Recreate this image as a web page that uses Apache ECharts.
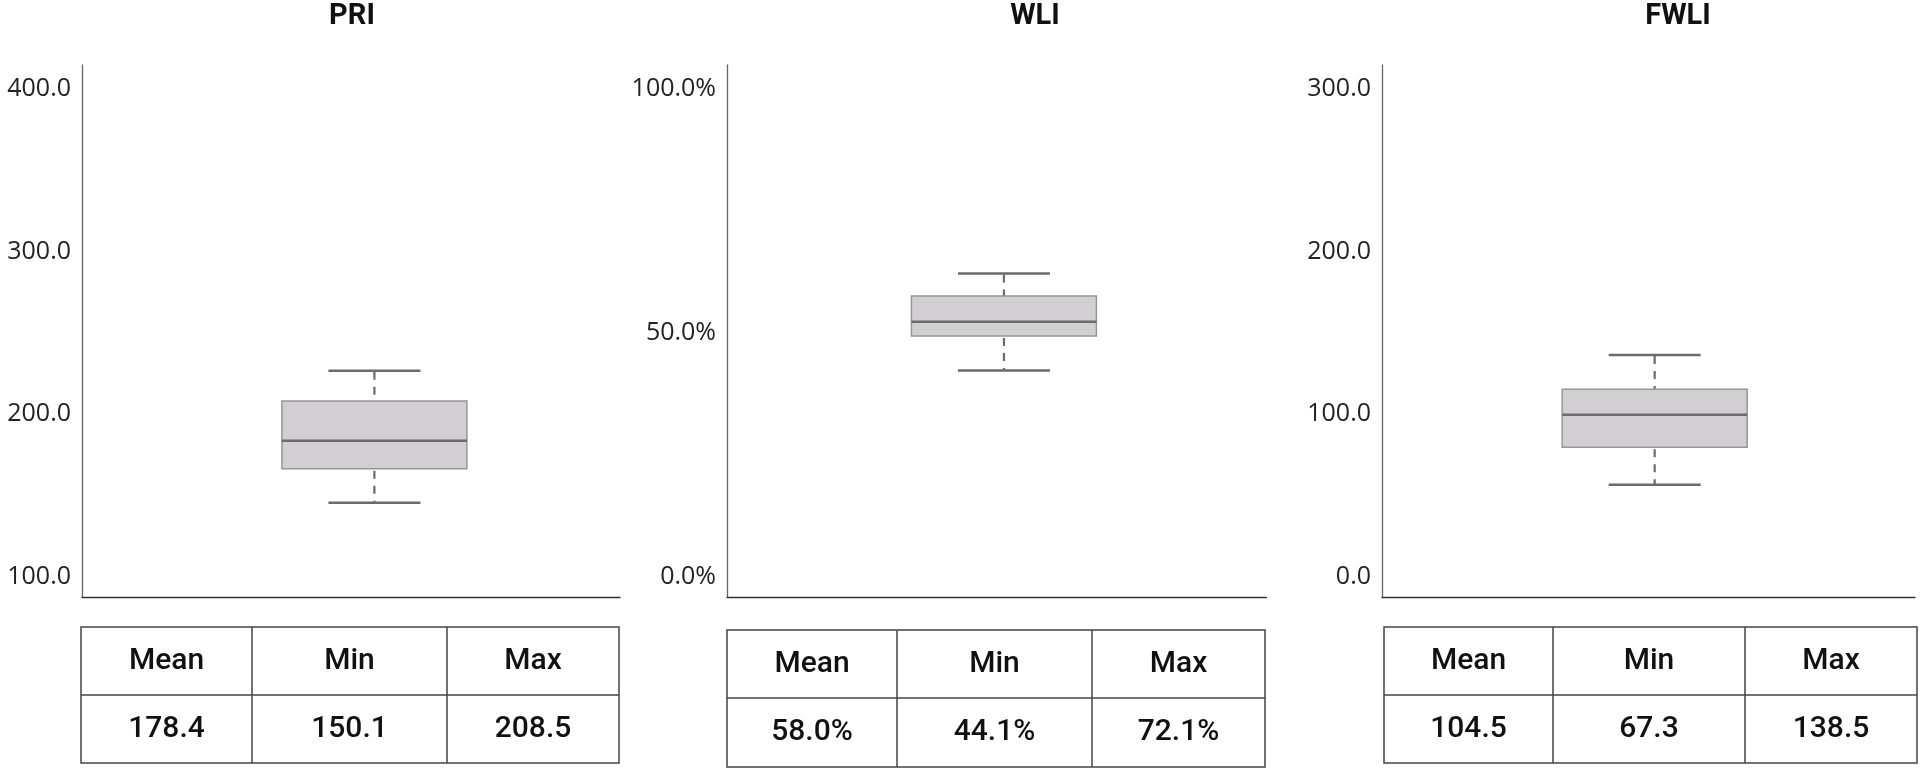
<!DOCTYPE html>
<html><head><meta charset="utf-8">
<script src="https://cdn.jsdelivr.net/npm/echarts@6/dist/echarts.min.js"></script>
<style>html,body{margin:0;padding:0;background:#fff}#c{width:1927px;height:771px}</style>
</head><body><div id="c"></div>
<script>
// ---- data ----
const titles = ['PRI', 'WLI', 'FWLI'];
// [lower whisker, Q1, median, Q3, upper whisker]
const priBox = [145.7, 166.6, 183.8, 208.2, 226.8];
const wliBox = [42.3, 49.4, 52.3, 57.6, 62.2];     // percent
const fwliBox = [56.7, 79.7, 99.8, 115.4, 136.5];
const priTicks = [100, 200, 300, 400];
const wliTicks = [0, 50, 100];
const fwliTicks = [0, 100, 200, 300];
const tableHeaders = ['Mean', 'Min', 'Max'];
const priStats = [178.4, 150.1, 208.5];
const wliStats = [58.0, 44.1, 72.1];
const fwliStats = [104.5, 67.3, 138.5];

// ---- layout ----
const layout = [
  { left: 82, width: 538, yMin: 87.70, yMax: 414.75, boxAt: 0.5435, titleX: 352,
    cols: [81, 252, 447, 619], rows: [627, 695, 763], fmt: v => v.toFixed(1) },
  { left: 727, width: 539.5, yMin: -4.098, yMax: 104.918, boxAt: 0.5133, titleX: 1035,
    cols: [727, 897, 1092, 1265], rows: [630, 698, 767], fmt: v => v.toFixed(1) + '%' },
  { left: 1382, width: 533, yMin: -12.30, yMax: 314.75, boxAt: 0.5116, titleX: 1678,
    cols: [1384, 1553, 1745, 1917], rows: [627, 695, 763], fmt: v => v.toFixed(1) }
];
const boxes = [priBox, wliBox, fwliBox];
const ticks = [priTicks, wliTicks, fwliTicks];
const stats = [priStats, wliStats, fwliStats];

const GRID_TOP = 65, GRID_BOTTOM = 174;
const BOX_W = 185, CAP_W = 92;
const WHISK = '#6b6b6b';

const chart = echarts.init(document.getElementById('c'), null, { renderer: 'canvas' });

const grids = layout.map(l => ({ left: l.left, width: l.width, top: GRID_TOP, bottom: GRID_BOTTOM }));
const xAxes = layout.map((l, i) => ({
  type: 'value', gridIndex: i, min: 0, max: 1,
  axisLine: { show: true, onZero: false, lineStyle: { color: '#333', width: 1.3 } },
  axisTick: { show: false }, axisLabel: { show: false }, splitLine: { show: false }
}));
const yAxes = layout.map((l, i) => ({
  type: 'value', gridIndex: i, min: l.yMin, max: l.yMax,
  axisLine: { show: true, lineStyle: { color: '#666', width: 1.3 } },
  axisTick: { show: false }, splitLine: { show: false },
  axisLabel: {
    customValues: ticks[i], margin: 11,
    formatter: v => l.fmt(v),
    fontFamily: 'Open Sans', fontSize: 25, color: '#222'
  }
}));

function renderBox(params, api) {
  const xv = api.value(0);
  const lo = api.coord([xv, api.value(1)]);
  const q1 = api.coord([xv, api.value(2)]);
  const md = api.coord([xv, api.value(3)]);
  const q3 = api.coord([xv, api.value(4)]);
  const hi = api.coord([xv, api.value(5)]);
  const cx = lo[0];
  const dash = { stroke: WHISK, lineWidth: 2.2, lineDash: [8, 7] };
  const solid = { stroke: WHISK, lineWidth: 2.5 };
  return {
    type: 'group', children: [
      { type: 'line', shape: { x1: cx, y1: hi[1] + 1, x2: cx, y2: q3[1] }, style: dash },
      { type: 'line', shape: { x1: cx, y1: q1[1] + 2, x2: cx, y2: lo[1] }, style: dash },
      { type: 'line', shape: { x1: cx - CAP_W / 2, y1: hi[1], x2: cx + CAP_W / 2, y2: hi[1] }, style: solid },
      { type: 'line', shape: { x1: cx - CAP_W / 2, y1: lo[1], x2: cx + CAP_W / 2, y2: lo[1] }, style: solid },
      { type: 'rect', shape: { x: cx - BOX_W / 2, y: q3[1], width: BOX_W, height: q1[1] - q3[1] },
        style: { fill: '#d1cfd1', stroke: '#979797', lineWidth: 1.5 } },
      { type: 'line', shape: { x1: cx - BOX_W / 2, y1: md[1], x2: cx + BOX_W / 2, y2: md[1] }, style: solid }
    ]
  };
}

const series = layout.map((l, i) => ({
  type: 'custom', xAxisIndex: i, yAxisIndex: i, clip: false,
  encode: { x: 0, y: [1, 2, 3, 4, 5] },
  data: [[l.boxAt].concat(boxes[i])],
  renderItem: renderBox
}));

const graphics = [];
layout.forEach((l, i) => {
  graphics.push({
    type: 'text', x: l.titleX, y: 17,
    style: { text: titles[i], font: 'bold 29px Roboto', fill: '#111',
      align: 'center', verticalAlign: 'middle', textAlign: 'center', textVerticalAlign: 'middle' }
  });
  const c = l.cols, r = l.rows;
  const stroke = { stroke: '#444', lineWidth: 1.5, fill: null };
  graphics.push({ type: 'rect', shape: { x: c[0], y: r[0], width: c[3] - c[0], height: r[2] - r[0] }, style: { stroke: '#444', lineWidth: 1.5, fill: 'none' } });
  graphics.push({ type: 'line', shape: { x1: c[0], y1: r[1], x2: c[3], y2: r[1] }, style: stroke });
  graphics.push({ type: 'line', shape: { x1: c[1], y1: r[0], x2: c[1], y2: r[2] }, style: stroke });
  graphics.push({ type: 'line', shape: { x1: c[2], y1: r[0], x2: c[2], y2: r[2] }, style: stroke });
  for (let k = 0; k < 3; k++) {
    const cxm = (c[k] + c[k + 1]) / 2;
    graphics.push({
      type: 'text', x: cxm, y: (r[0] + r[1]) / 2,
      style: { text: tableHeaders[k], font: '500 30px Roboto', fill: '#111',
        align: 'center', verticalAlign: 'middle', textAlign: 'center', textVerticalAlign: 'middle' }
    });
    graphics.push({
      type: 'text', x: cxm, y: (r[1] + r[2]) / 2,
      style: { text: l.fmt(stats[i][k]), font: '500 30px Roboto', fill: '#111',
        align: 'center', verticalAlign: 'middle', textAlign: 'center', textVerticalAlign: 'middle' }
    });
  }
});

chart.setOption({
  animation: false,
  backgroundColor: '#fff',
  grid: grids, xAxis: xAxes, yAxis: yAxes, series: series,
  graphic: { elements: graphics }
});
</script></body></html>
